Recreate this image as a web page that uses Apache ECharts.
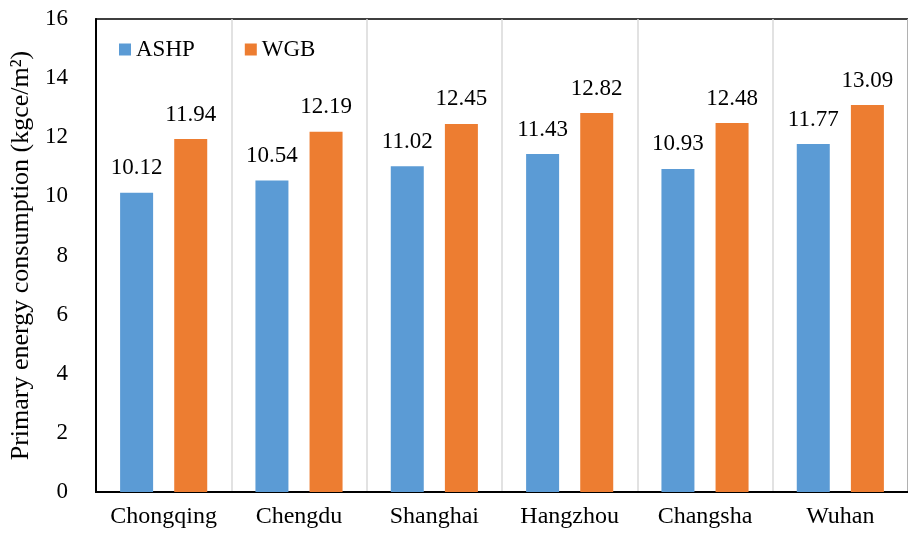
<!DOCTYPE html>
<html>
<head>
<meta charset="utf-8">
<script src="https://cdn.jsdelivr.net/npm/echarts@6/dist/echarts.min.js"></script>
<style>
  html, body { margin: 0; padding: 0; background: #fff; }
  #chart { width: 908px; height: 534px; }
</style>
</head>
<body>
<div id="chart"></div>
<script>
// Cities compared
const cities = ['Chongqing', 'Chengdu', 'Shanghai', 'Hangzhou', 'Changsha', 'Wuhan'];
// Primary energy consumption per system (kgce/m²)
const ashp = [10.12, 10.54, 11.02, 11.43, 10.93, 11.77];
const wgb = [11.94, 12.19, 12.45, 12.82, 12.48, 13.09];
// Value axis range
const yMin = 0, yMax = 16, yStep = 2;

const FONT = '"Liberation Serif", "Times New Roman", serif';
const chart = echarts.init(document.getElementById('chart'), null, { renderer: 'canvas' });

const valueLabel = {
  show: true,
  position: 'top',
  distance: 13,
  fontFamily: FONT,
  fontSize: 23,
  color: '#000',
  formatter: p => p.value.toFixed(2)
};

chart.setOption({
  animation: false,
  backgroundColor: '#fff',
  textStyle: { fontFamily: FONT },
  grid: {
    left: 96, top: 19, width: 820, height: 473,
    show: true, borderColor: '#000', borderWidth: 1.5, backgroundColor: 'transparent'
  },
  legend: {
    left: 114, top: 33,
    itemWidth: 12, itemHeight: 12, itemGap: 50,
    icon: 'rect',
    textStyle: { fontFamily: FONT, fontSize: 23, color: '#000' },
    data: ['ASHP', 'WGB']
  },
  xAxis: {
    type: 'category',
    data: cities,
    boundaryGap: true,
    axisLine: { show: true, lineStyle: { color: '#000', width: 2 } },
    axisTick: { show: false },
    axisLabel: { fontFamily: FONT, fontSize: 24, color: '#000', margin: 13, interval: 0, hideOverlap: false },
    splitLine: { show: true, interval: 0, lineStyle: { color: '#d9d9d9', width: 1.5 } }
  },
  yAxis: {
    type: 'value',
    min: yMin, max: yMax, interval: yStep,
    name: 'Primary energy consumption (kgce/m²)',
    nameLocation: 'middle',
    nameGap: 58,
    nameTextStyle: { fontFamily: FONT, fontSize: 26, color: '#000' },
    axisLine: { show: true, lineStyle: { color: '#000', width: 2 } },
    axisTick: { show: false },
    axisLabel: { fontFamily: FONT, fontSize: 23, color: '#000', margin: 28 },
    splitLine: { show: false }
  },
  series: [
    {
      name: 'ASHP', type: 'bar', data: ashp,
      barWidth: 33, barGap: '64%',
      itemStyle: { color: '#5B9BD5' },
      label: valueLabel
    },
    {
      name: 'WGB', type: 'bar', data: wgb,
      barWidth: 33, barGap: '64%',
      itemStyle: { color: '#ED7D31' },
      label: valueLabel
    }
  ]
});
</script>
</body>
</html>
